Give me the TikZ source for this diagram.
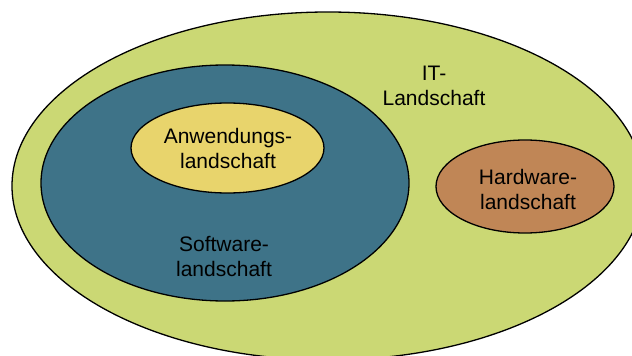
\documentclass[tikz,border=0pt]{standalone}
\usepackage{fontspec}
\setmainfont{Liberation Sans}
\usetikzlibrary{shapes.geometric}
\definecolor{itgreen}{RGB}{203,216,116}
\definecolor{swteal}{RGB}{62,115,136}
\definecolor{appyellow}{RGB}{232,212,108}
\definecolor{hwbrown}{RGB}{192,134,86}
\tikzset{
  area/.style={ellipse, draw=black, line width=1.3pt, inner sep=0pt},
  lbl/.style={align=center, font=\fontsize{21}{25}\selectfont, text=black, inner sep=0pt}
}
\begin{document}
\begin{tikzpicture}[x=1pt, y=-1pt]
  \useasboundingbox (0,0) rectangle (632,356);
  \clip (0,0) rectangle (632,356);
  % nested landscapes
  \node[area, fill=itgreen, minimum width=632pt, minimum height=348pt] (it) at (328,186) {};
  \node[area, fill=swteal, minimum width=368pt, minimum height=236pt] (sw) at (225,183) {};
  \node[area, fill=appyellow, minimum width=193pt, minimum height=90pt] (app) at (227.5,148) {};
  \node[area, fill=hwbrown, minimum width=178pt, minimum height=93pt] (hw) at (525,186.5) {};
  % labels
  \node[lbl] (itl) at (434,86) {IT-\\Landschaft};
  \node[lbl] (appl) at (228,148) {Anwendungs-\\landschaft};
  \node[lbl] (swl) at (224,257) {Software-\\landschaft};
  \node[lbl] (hwl) at (528,189) {Hardware-\\landschaft};
\end{tikzpicture}
\end{document}
